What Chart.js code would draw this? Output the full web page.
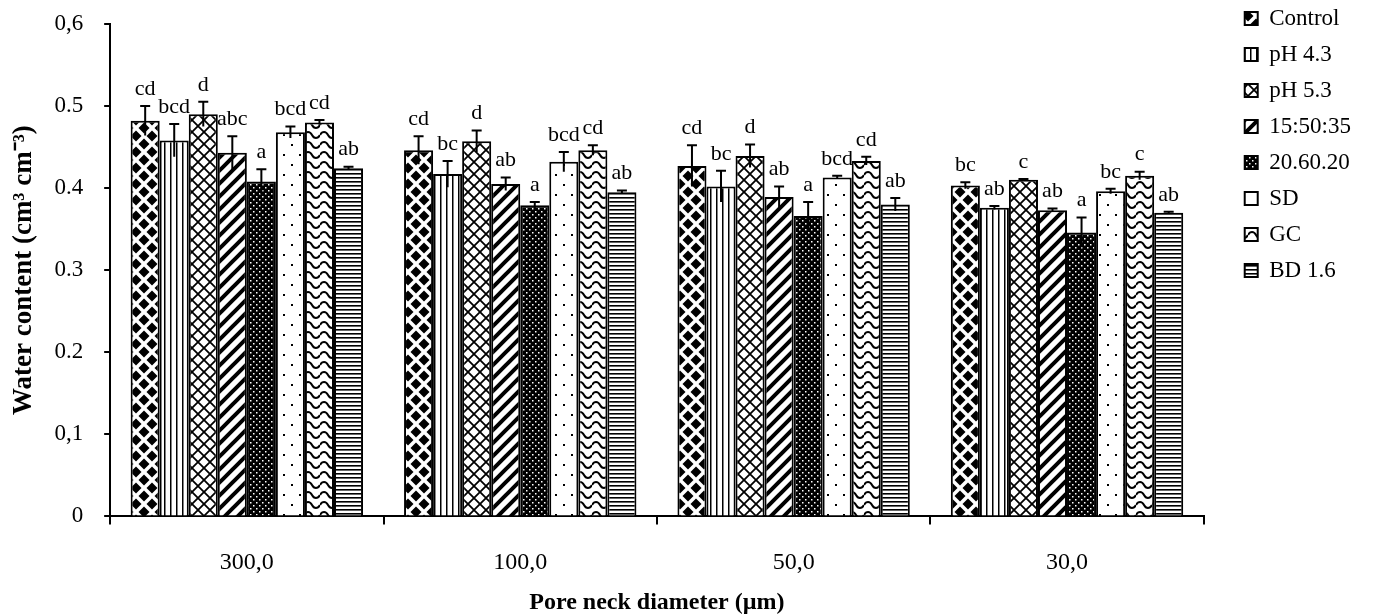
<!DOCTYPE html>
<html>
<head>
<meta charset="utf-8">
<script src="https://cdn.jsdelivr.net/npm/chart.js@4/dist/chart.umd.min.js"></script>
<style>
  body { margin: 0; background: #fff; }
  canvas { display: block; }
</style>
</head>
<body>
<canvas id="chart" width="1386" height="615"></canvas>
<script>
// pore neck diameter groups
var categories = ['300,0', '100,0', '50,0', '30,0'];
var yTickLabels = ['0', '0,1', '0.2', '0.3', '0.4', '0.5', '0,6'];

var seriesNames = ['Control', 'pH 4.3', 'pH 5.3', '15:50:35', '20.60.20', 'SD', 'GC', 'BD 1.6'];

// water content (cm3 cm-3)
var control  = [0.482, 0.446, 0.427, 0.403];
var ph43     = [0.458, 0.417, 0.402, 0.376];
var ph53     = [0.490, 0.457, 0.439, 0.410];
var mix155   = [0.443, 0.405, 0.389, 0.373];
var mix206   = [0.408, 0.379, 0.366, 0.346];
var sd       = [0.468, 0.432, 0.413, 0.396];
var gc       = [0.480, 0.446, 0.433, 0.415];
var bd16     = [0.424, 0.395, 0.380, 0.370];

// error bars
var controlErr = [0.018, 0.017, 0.025, 0.004];
var ph43Err    = [0.020, 0.016, 0.019, 0.002];
var ph53Err    = [0.015, 0.013, 0.014, 0.001];
var mix155Err  = [0.020, 0.008, 0.013, 0.002];
var mix206Err  = [0.015, 0.004, 0.017, 0.018];
var sdErr      = [0.007, 0.012, 0.002, 0.003];
var gcErr      = [0.003, 0.006, 0.005, 0.005];
var bd16Err    = [0.002, 0.002, 0.008, 0.001];

// significance letters
var controlLetters = ['cd', 'cd', 'cd', 'bc'];
var ph43Letters    = ['bcd', 'bc', 'bc', 'ab'];
var ph53Letters    = ['d', 'd', 'd', 'c'];
var mix155Letters  = ['abc', 'ab', 'ab', 'ab'];
var mix206Letters  = ['a', 'a', 'a', 'a'];
var sdLetters      = ['bcd', 'bcd', 'bcd', 'bc'];
var gcLetters      = ['cd', 'cd', 'cd', 'c'];
var bd16Letters    = ['ab', 'ab', 'ab', 'ab'];

var values  = [control, ph43, ph53, mix155, mix206, sd, gc, bd16];
var errors  = [controlErr, ph43Err, ph53Err, mix155Err, mix206Err, sdErr, gcErr, bd16Err];
var letters = [controlLetters, ph43Letters, ph53Letters, mix155Letters, mix206Letters, sdLetters, gcLetters, bd16Letters];

var serif = '"Liberation Serif", "Times New Roman", serif';

// black & white fill patterns
function makePattern(kind) {
	var c = document.createElement('canvas');
	var g = c.getContext('2d');
	var w = 10, h = 10;
	if (kind == 'diamond') { w = 16; h = 16; }
	if (kind == 'vlines') { w = 6; h = 6; }
	if (kind == 'cross') { w = 12; h = 12; }
	if (kind == 'diag') { w = 13; h = 13; }
	if (kind == 'dense') { w = 6; h = 6; }
	if (kind == 'sparse') { w = 16; h = 20; }
	if (kind == 'wave') { w = 16; h = 10; }
	if (kind == 'hlines') { w = 4; h = 4; }
	c.width = w; c.height = h;
	g.fillStyle = '#fff';
	g.fillRect(0, 0, w, h);
	g.fillStyle = '#000';
	g.strokeStyle = '#000';
	if (kind == 'diamond') {
		var d = function(cx, cy) {
			g.beginPath();
			g.moveTo(cx, cy - 5.5); g.lineTo(cx + 5.5, cy); g.lineTo(cx, cy + 5.5); g.lineTo(cx - 5.5, cy);
			g.closePath(); g.fill();
		};
		d(8, 8); d(0, 0); d(16, 0); d(0, 16); d(16, 16);
	} else if (kind == 'vlines') {
		g.fillRect(2, 0, 1.5, h);
	} else if (kind == 'cross') {
		g.lineWidth = 1.8;
		g.beginPath();
		g.moveTo(0, 0); g.lineTo(w, h);
		g.moveTo(w, 0); g.lineTo(0, h);
		g.stroke();
	} else if (kind == 'diag') {
		g.lineWidth = 4;
		g.beginPath();
		g.moveTo(-2, h + 2); g.lineTo(w + 2, -2);
		g.moveTo(-2, 2); g.lineTo(2, -2);
		g.moveTo(w - 2, h + 2); g.lineTo(w + 2, h - 2);
		g.stroke();
	} else if (kind == 'dense') {
		g.fillRect(0, 0, w, h);
		g.fillStyle = '#fff';
		g.fillRect(1, 1, 1.5, 1.5);
		g.fillRect(4, 4, 1.5, 1.5);
	} else if (kind == 'sparse') {
		g.fillRect(3, 4, 2, 2);
		g.fillRect(11, 14, 2, 2);
	} else if (kind == 'wave') {
		g.lineWidth = 2;
		g.beginPath();
		g.moveTo(0, 5);
		g.bezierCurveTo(2, 1, 6, 1, 8, 5);
		g.bezierCurveTo(10, 9, 14, 9, 16, 5);
		g.stroke();
	} else if (kind == 'hlines') {
		g.fillRect(0, 1, w, 1.6);
	}
	return g.createPattern(c, 'repeat');
}

var fills = ['diamond', 'vlines', 'cross', 'diag', 'dense', 'sparse', 'wave', 'hlines'];

var datasets = [];
for (var i = 0; i < seriesNames.length; i++) {
	datasets.push({
		label: seriesNames[i],
		data: values[i],
		backgroundColor: makePattern(fills[i]),
		borderColor: '#000',
		borderWidth: 2,
		categoryPercentage: 0.85,
		barPercentage: 1.0
	});
}

// error bars and letters above each bar
var errorBars = {
	id: 'errorBars',
	afterDatasetsDraw: function(chart) {
		var ctx = chart.ctx;
		var y = chart.scales.y;
		ctx.save();
		ctx.strokeStyle = '#000';
		ctx.lineWidth = 2;
		ctx.fillStyle = '#000';
		ctx.font = '22px ' + serif;
		ctx.textAlign = 'center';
		ctx.textBaseline = 'bottom';
		for (var i = 0; i < datasets.length; i++) {
			var meta = chart.getDatasetMeta(i);
			for (var j = 0; j < meta.data.length; j++) {
				var bar = meta.data[j];
				var v = values[i][j], e = errors[i][j];
				var top = y.getPixelForValue(v + e);
				var low = y.getPixelForValue(v - e);
				ctx.beginPath();
				ctx.moveTo(bar.x, low);
				ctx.lineTo(bar.x, top);
				ctx.moveTo(bar.x - 5, top);
				ctx.lineTo(bar.x + 5, top);
				ctx.stroke();
				ctx.fillText(letters[i][j], bar.x, top - 6);
			}
		}
		ctx.restore();
	}
};

var chart = new Chart(document.getElementById('chart').getContext('2d'), {
	type: 'bar',
	data: { labels: categories, datasets: datasets },
	plugins: [errorBars],
	options: {
		responsive: false,
		animation: false,
		layout: { padding: { top: -6, right: 25, left: 4, bottom: 0 } },
		plugins: {
			tooltip: { enabled: false },
			legend: {
				position: 'right',
				align: 'start',
				labels: {
					color: '#000',
					font: { family: serif, size: 23 },
					boxWidth: 13,
					boxHeight: 13,
					padding: 13
				}
			}
		},
		scales: {
			x: {
				offset: true,
				grid: { display: true, drawOnChartArea: false, offset: true, tickLength: 8, color: '#000', lineWidth: 2 },
				border: { color: '#000', width: 2 },
				ticks: { color: '#000', padding: 24, font: { family: serif, size: 24 } },
				title: {
					display: true,
					text: 'Pore neck diameter (µm)',
					color: '#000',
					padding: { top: -13, bottom: -2 },
					font: { family: serif, size: 24, weight: 'bold' }
				}
			},
			y: {
				min: 0,
				max: 0.6,
				grid: { display: true, drawOnChartArea: false, tickLength: 6, color: '#000', lineWidth: 2 },
				border: { color: '#000', width: 2 },
				ticks: {
					stepSize: 0.1,
					color: '#000',
					padding: 21,
					font: { family: serif, size: 23, lineHeight: 0.25 },
					callback: function(value, index) { return yTickLabels[index]; }
				},
				title: {
					display: true,
					text: 'Water content (cm³ cm⁻³)',
					color: '#000',
					padding: { top: 4, bottom: -7 },
					font: { family: serif, size: 27, weight: 'bold' }
				}
			},
			// empty spacer between plot and legend
			gap: {
				type: 'linear',
				position: 'right',
				display: true,
				grid: { display: false },
				border: { display: false },
				ticks: { display: false },
				afterFit: function(s) { s.width = 28; }
			}
		}
	}
});
</script>
</body>
</html>
